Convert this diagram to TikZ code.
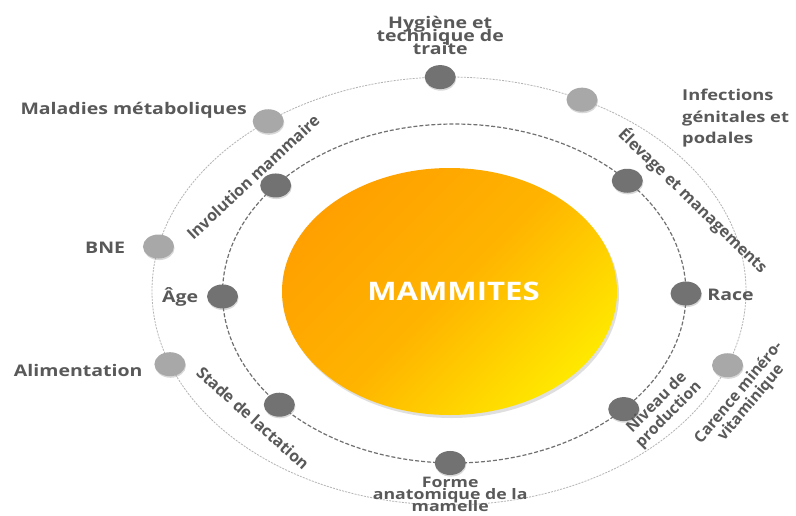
\documentclass[tikz,border=0pt]{standalone}
\usepackage{fontspec}
\setmainfont{Open Sans}[FakeStretch=1.22]
\newfontfamily\rotfont{Open Sans}
\usetikzlibrary{positioning,calc,shapes.geometric,shadows}

\newcommand\tightlines{\lineskiplimit=-20pt\relax}

\definecolor{labelgray}{HTML}{595959}
\definecolor{dotdark}{HTML}{727272}
\definecolor{dotlight}{HTML}{A8A8A8}
\definecolor{outerring}{HTML}{B4B4B4}
\definecolor{innerring}{HTML}{707070}
\definecolor{coreorange}{HTML}{FFA000}
\definecolor{coremid}{HTML}{FFB400}
\definecolor{coreyellow}{HTML}{FFE800}

\tikzset{
  factor/.style={ellipse, minimum width=31pt, minimum height=24pt, inner sep=0pt,
    drop shadow={shadow xshift=0.6pt, shadow yshift=-1.6pt, opacity=0.3}},
  darkdot/.style={factor, fill=dotdark},
  lightdot/.style={factor, fill=dotlight},
  lbl/.style={font=\bfseries\fontsize{16}{16}\selectfont, text=labelgray,
    inner sep=0pt, align=center},
  rotlbl/.style={lbl, font=\rotfont\bfseries\fontsize{16}{16}\selectfont},
}

\begin{document}
\begin{tikzpicture}[x=1pt,y=-1pt]
\useasboundingbox[fill=white] (0,0) rectangle (796,515);

% ring centres
\coordinate (co) at (449,291);
\coordinate (ci) at (454.25,293.5);
\coordinate (cc) at (449.5,291.5);

% rings
\draw[outerring, line width=0.8pt, dash pattern=on 2pt off 1.2pt]
  (co) ellipse [x radius=297pt, y radius=214pt];
\draw[innerring, line width=1.2pt, dash pattern=on 4pt off 2pt]
  (ci) ellipse [x radius=231.75pt, y radius=169.5pt];

% core
\shade[drop shadow={shadow xshift=2pt, shadow yshift=-3pt, opacity=0.25},
  top color=coreorange, bottom color=coreyellow, middle color=coremid,
  shading angle=45] (cc) ellipse [x radius=167.5pt, y radius=123.5pt];
\node[font=\bfseries\fontsize{25.5}{25.5}\selectfont, text=white] (core)
  at ([xshift=4pt]cc) {MAMMITES};

% outer factors
\node[darkdot]  (hyg) at ($(co)+(91.7:297pt and 214pt)$) {};
\node[lightdot] (inf) at ($(co)+(63.4:297pt and 214pt)$) {};
\node[lightdot] (mal) at ($(co)+(127.5:297pt and 214pt)$) {};
\node[lightdot] (bne) at ($(co)+(168:297pt and 214pt)$) {};
\node[lightdot] (ali) at ($(co)+(200:297pt and 214pt)$) {};
\node[lightdot] (car) at ($(co)+(339.7:297pt and 214pt)$) {};

% inner factors
\node[darkdot] (age)  at ($(ci)+(181:231.75pt and 169.5pt)$) {};
\node[darkdot] (race) at ($(ci)+(0:231.75pt and 169.5pt)$) {};
\node[darkdot] (inv)  at ($(ci)+(140.4:231.75pt and 169.5pt)$) {};
\node[darkdot] (ele)  at ($(ci)+(41.7:231.75pt and 169.5pt)$) {};
\node[darkdot] (sta)  at ($(ci)+(221:231.75pt and 169.5pt)$) {};
\node[darkdot] (niv)  at ($(ci)+(317:231.75pt and 169.5pt)$) {};
\node[darkdot] (frm)  at ($(ci)+(269:231.75pt and 169.5pt)$) {};

% labels
\node[lbl, font=\bfseries\fontsize{16}{13}\selectfont\tightlines,
  above=10.5pt of hyg] (hygl) {Hygiène et\\technique de\\traite};
\node[lbl, font=\bfseries\fontsize{15}{21.5}\selectfont, align=left, anchor=north west]
  (infl) at (682,89) {Infections\\génitales et\\podales};
\node[lbl, anchor=base east] (mall) at ([shift={(-5.5,-7)}]mal.west) {Maladies métaboliques};
\node[lbl, anchor=base east] (bnel) at ([shift={(-17.5,7)}]bne.west) {BNE};
\node[lbl, anchor=base east] (agel) at ([shift={(-8.5,6)}]age.west) {Âge};
\node[lbl, anchor=base east] (alil) at ([shift={(-11.5,12)}]ali.west) {Alimentation};
\node[lbl, anchor=base west] (racel) at ([shift={(5.5,7)}]race.east) {Race};
\node[lbl, font=\bfseries\fontsize{14.5}{12}\selectfont\tightlines,
  below=2pt of frm] (frml) {Forme\\anatomique de la\\mamelle};

% rotated labels
\node[rotlbl, rotate=43] (invl) at (253,177) {Involution mammaire};
\node[rotlbl, rotate=-44] (elel) at (693,201) {Élevage et managements};
\node[rotlbl, rotate=-42] (stal) at (253,418) {Stade de lactation};
\node[rotlbl, font=\rotfont\bfseries\fontsize{15.5}{17}\selectfont, rotate=45] (nivl)
  at (663,409) {Niveau de\\production};
\node[rotlbl, font=\rotfont\bfseries\fontsize{15.5}{16}\selectfont, rotate=50] (carl)
  at (745,398) {Carence minéro-\\vitaminique};
\end{tikzpicture}
\end{document}
